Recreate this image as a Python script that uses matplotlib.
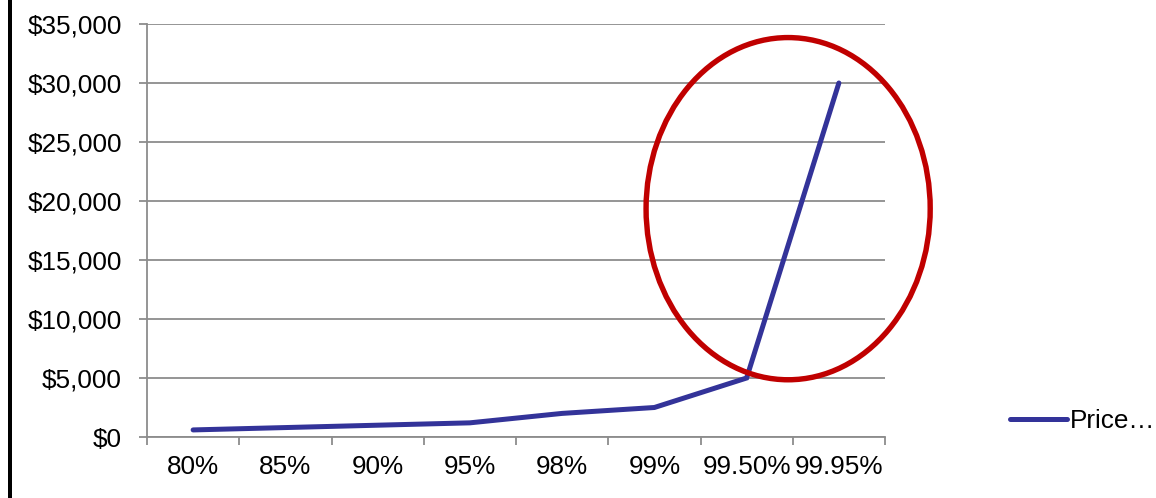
import matplotlib.pyplot as plt
import numpy as np
from matplotlib.patches import Ellipse, Rectangle
from matplotlib.ticker import FuncFormatter, FixedLocator

plt.rcParams['font.family'] = ['Liberation Sans', 'DejaVu Sans']

levels = ['80%', '85%', '90%', '95%', '98%', '99%', '99.50%', '99.95%']
price = [600, 800, 1000, 1200, 2000, 2500, 5000, 30000]

fig = plt.figure(figsize=(11.56, 4.98), dpi=100)
ax = fig.add_axes([147 / 1156, 1 - 437 / 498, 738 / 1156, 413 / 498])

x = np.arange(len(levels))
ax.plot(x, price, color='#333399', lw=3.6, solid_capstyle='round',
        solid_joinstyle='miter', label='Price…', zorder=3)

# highlight the jump at the top end
ax.add_patch(Ellipse((6.45, 19350), 3.08, 29000, fill=False,
                     edgecolor='#C00000', lw=3.9, zorder=4, clip_on=False))

ax.set_xlim(-0.5, len(levels) - 0.5)
ax.set_ylim(0, 35000)
ax.set_yticks(np.arange(0, 35001, 5000))
ax.yaxis.set_major_formatter(FuncFormatter(lambda v, p: '${:,.0f}'.format(v)))
ax.grid(axis='y', color='#8c8c8c', lw=1.3)
ax.set_axisbelow(True)

ax.set_xticks(x)
ax.set_xticklabels(levels)
ax.xaxis.set_minor_locator(FixedLocator(np.arange(-0.5, len(levels), 1.0)))
ax.tick_params(axis='x', which='major', length=0, pad=13, labelsize=18.8)
ax.tick_params(axis='x', which='minor', length=6, width=1.3, color='#8c8c8c')
ax.tick_params(axis='y', length=6, width=1.3, color='#8c8c8c', pad=12,
               labelsize=18.8)

for side in ['top', 'right']:
    ax.spines[side].set_visible(False)
for side in ['left', 'bottom']:
    ax.spines[side].set_color('#8c8c8c')
    ax.spines[side].set_linewidth(1.3)

ax.legend(loc='center left', bbox_to_anchor=(1010 / 1156, 1 - 421 / 498),
          bbox_transform=fig.transFigure, frameon=False, fontsize=18.8,
          handlelength=2.2, handletextpad=0.1, borderaxespad=0, borderpad=0)

# black bar down the left edge
fig.add_artist(Rectangle((8 / 1156, 0), 4 / 1156, 1, transform=fig.transFigure,
                         color='black', lw=0))

fig.savefig('out.png', dpi=100)
